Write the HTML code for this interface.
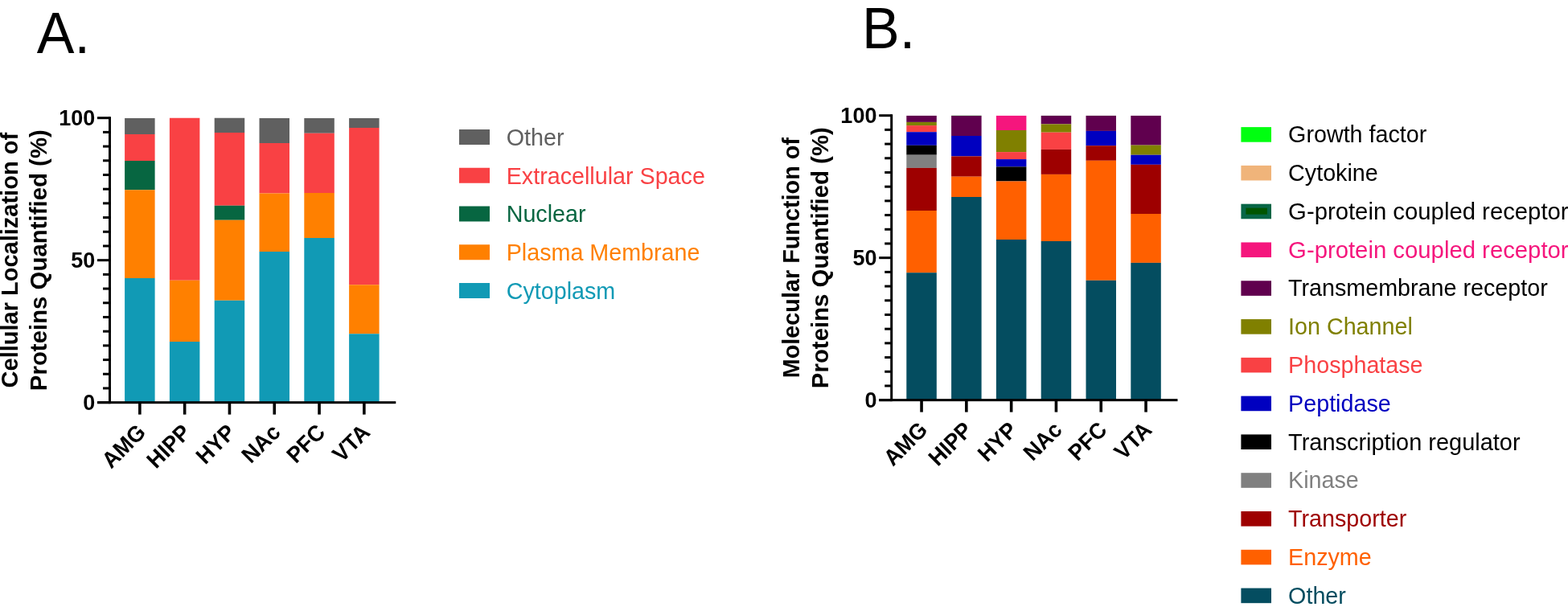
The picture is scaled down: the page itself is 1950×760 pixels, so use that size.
<!DOCTYPE html>
<html><head><meta charset="utf-8"><title>Protein localization and function</title>
<style>
html,body{margin:0;padding:0;background:#fff;}
body{width:1950px;height:760px;overflow:hidden;}
svg{display:block;}
text{font-family:"Liberation Sans", Arial, Helvetica, sans-serif;}
.big{font-size:70px;font-weight:400;fill:#000;}
.tk{font-size:27px;font-weight:700;fill:#000;}
.xl{font-size:27px;font-weight:700;fill:#000;}
.yt{font-size:29px;font-weight:700;fill:#000;}
.lg{font-size:28.7px;font-weight:400;}
</style></head>
<body>
<svg width="1950" height="760" viewBox="0 0 1950 760">
<text transform="translate(45.8,66.1) scale(1,1.04)" class="big">A.</text>
<text transform="translate(1072.1,59.8) scale(1,1.04)" class="big">B.</text>
<rect x="155.10" y="147.00" width="37.50" height="20.00" fill="#606060"/>
<rect x="155.10" y="167.00" width="37.50" height="33.00" fill="#F94144"/>
<rect x="155.10" y="200.00" width="37.50" height="36.25" fill="#076641"/>
<rect x="155.10" y="236.25" width="37.50" height="109.75" fill="#FF8000"/>
<rect x="155.10" y="346.00" width="37.50" height="154.65" fill="#119AB5"/>
<rect x="210.90" y="146.75" width="37.50" height="202.00" fill="#F94144"/>
<rect x="210.90" y="348.75" width="37.50" height="76.25" fill="#FF8000"/>
<rect x="210.90" y="425.00" width="37.50" height="75.65" fill="#119AB5"/>
<rect x="266.70" y="146.75" width="37.50" height="18.25" fill="#606060"/>
<rect x="266.70" y="165.00" width="37.50" height="90.75" fill="#F94144"/>
<rect x="266.70" y="255.75" width="37.50" height="18.00" fill="#076641"/>
<rect x="266.70" y="273.75" width="37.50" height="100.00" fill="#FF8000"/>
<rect x="266.70" y="373.75" width="37.50" height="126.90" fill="#119AB5"/>
<rect x="322.50" y="147.00" width="37.50" height="31.00" fill="#606060"/>
<rect x="322.50" y="178.00" width="37.50" height="62.50" fill="#F94144"/>
<rect x="322.50" y="240.50" width="37.50" height="72.50" fill="#FF8000"/>
<rect x="322.50" y="313.00" width="37.50" height="187.65" fill="#119AB5"/>
<rect x="378.30" y="147.00" width="37.50" height="18.75" fill="#606060"/>
<rect x="378.30" y="165.75" width="37.50" height="74.25" fill="#F94144"/>
<rect x="378.30" y="240.00" width="37.50" height="56.00" fill="#FF8000"/>
<rect x="378.30" y="296.00" width="37.50" height="204.65" fill="#119AB5"/>
<rect x="434.10" y="147.00" width="37.50" height="12.00" fill="#606060"/>
<rect x="434.10" y="159.00" width="37.50" height="195.25" fill="#F94144"/>
<rect x="434.10" y="354.25" width="37.50" height="61.00" fill="#FF8000"/>
<rect x="434.10" y="415.25" width="37.50" height="85.40" fill="#119AB5"/>
<rect x="135.00" y="145.20" width="3.0" height="356.95" fill="#000"/>
<rect x="121.00" y="499.15" width="15.50" height="3" fill="#000"/>
<rect x="128.00" y="481.45" width="8.50" height="3" fill="#000"/>
<rect x="128.00" y="463.75" width="8.50" height="3" fill="#000"/>
<rect x="128.00" y="446.06" width="8.50" height="3" fill="#000"/>
<rect x="128.00" y="428.36" width="8.50" height="3" fill="#000"/>
<rect x="128.00" y="410.66" width="8.50" height="3" fill="#000"/>
<rect x="128.00" y="392.96" width="8.50" height="3" fill="#000"/>
<rect x="128.00" y="375.27" width="8.50" height="3" fill="#000"/>
<rect x="128.00" y="357.57" width="8.50" height="3" fill="#000"/>
<rect x="128.00" y="339.87" width="8.50" height="3" fill="#000"/>
<rect x="121.00" y="322.17" width="15.50" height="3" fill="#000"/>
<rect x="128.00" y="304.48" width="8.50" height="3" fill="#000"/>
<rect x="128.00" y="286.78" width="8.50" height="3" fill="#000"/>
<rect x="128.00" y="269.08" width="8.50" height="3" fill="#000"/>
<rect x="128.00" y="251.38" width="8.50" height="3" fill="#000"/>
<rect x="128.00" y="233.69" width="8.50" height="3" fill="#000"/>
<rect x="128.00" y="215.99" width="8.50" height="3" fill="#000"/>
<rect x="128.00" y="198.29" width="8.50" height="3" fill="#000"/>
<rect x="128.00" y="180.59" width="8.50" height="3" fill="#000"/>
<rect x="128.00" y="162.90" width="8.50" height="3" fill="#000"/>
<rect x="121.00" y="145.20" width="15.50" height="3" fill="#000"/>
<rect x="121.00" y="499.15" width="371.30" height="3" fill="#000"/>
<rect x="172.05" y="500.65" width="3.6" height="14.95" fill="#000"/>
<rect x="227.85" y="500.65" width="3.6" height="14.95" fill="#000"/>
<rect x="283.65" y="500.65" width="3.6" height="14.95" fill="#000"/>
<rect x="339.45" y="500.65" width="3.6" height="14.95" fill="#000"/>
<rect x="395.25" y="500.65" width="3.6" height="14.95" fill="#000"/>
<rect x="451.05" y="500.65" width="3.6" height="14.95" fill="#000"/>
<text transform="translate(118.20,510.35) scale(1,1.04)" text-anchor="end" class="tk">0</text>
<text transform="translate(118.20,333.37) scale(1,1.04)" text-anchor="end" class="tk">50</text>
<text transform="translate(118.20,156.40) scale(1,1.04)" text-anchor="end" class="tk">100</text>
<text transform="translate(182.85,539.40) rotate(-45) scale(1,1.04)" text-anchor="end" class="xl">AMG</text>
<text transform="translate(238.65,539.40) rotate(-45) scale(1,1.04)" text-anchor="end" class="xl">HIPP</text>
<text transform="translate(294.45,539.40) rotate(-45) scale(1,1.04)" text-anchor="end" class="xl">HYP</text>
<text transform="translate(350.25,539.40) rotate(-45) scale(1,1.04)" text-anchor="end" class="xl">NAc</text>
<text transform="translate(406.05,539.40) rotate(-45) scale(1,1.04)" text-anchor="end" class="xl">PFC</text>
<text transform="translate(461.85,539.40) rotate(-45) scale(1,1.04)" text-anchor="end" class="xl">VTA</text>
<text transform="translate(22.40,323.67) rotate(-90)" text-anchor="middle" class="yt" style="font-size:29px">Cellular Localization of</text>
<text transform="translate(58.20,323.67) rotate(-90)" text-anchor="middle" class="yt" style="font-size:29.4px">Proteins Quantified (%)</text>
<rect x="1127.30" y="143.90" width="37.50" height="8.00" fill="#60004E"/>
<rect x="1127.30" y="151.90" width="37.50" height="4.20" fill="#808000"/>
<rect x="1127.30" y="156.10" width="37.50" height="8.10" fill="#F94144"/>
<rect x="1127.30" y="164.20" width="37.50" height="16.60" fill="#0000C0"/>
<rect x="1127.30" y="180.80" width="37.50" height="11.90" fill="#000000"/>
<rect x="1127.30" y="192.70" width="37.50" height="16.20" fill="#808080"/>
<rect x="1127.30" y="208.90" width="37.50" height="53.10" fill="#9E0000"/>
<rect x="1127.30" y="262.00" width="37.50" height="77.20" fill="#FF6000"/>
<rect x="1127.30" y="339.20" width="37.50" height="158.45" fill="#044D60"/>
<rect x="1183.10" y="143.72" width="37.50" height="0.18" fill="#00FF10"/>
<rect x="1183.10" y="143.90" width="37.50" height="25.10" fill="#60004E"/>
<rect x="1183.10" y="169.00" width="37.50" height="25.40" fill="#0000C0"/>
<rect x="1183.10" y="194.40" width="37.50" height="25.30" fill="#9E0000"/>
<rect x="1183.10" y="219.70" width="37.50" height="25.30" fill="#FF6000"/>
<rect x="1183.10" y="245.00" width="37.50" height="252.65" fill="#044D60"/>
<rect x="1238.90" y="143.90" width="37.50" height="18.10" fill="#F5167D"/>
<rect x="1238.90" y="162.00" width="37.50" height="27.10" fill="#808000"/>
<rect x="1238.90" y="189.10" width="37.50" height="9.00" fill="#F94144"/>
<rect x="1238.90" y="198.10" width="37.50" height="9.30" fill="#0000C0"/>
<rect x="1238.90" y="207.40" width="37.50" height="18.10" fill="#000000"/>
<rect x="1238.90" y="225.50" width="37.50" height="72.50" fill="#FF6000"/>
<rect x="1238.90" y="298.00" width="37.50" height="199.65" fill="#044D60"/>
<rect x="1294.70" y="143.85" width="37.50" height="0.05" fill="#00FF10"/>
<rect x="1294.70" y="143.90" width="37.50" height="10.50" fill="#60004E"/>
<rect x="1294.70" y="154.40" width="37.50" height="10.30" fill="#808000"/>
<rect x="1294.70" y="164.70" width="37.50" height="21.20" fill="#F94144"/>
<rect x="1294.70" y="185.90" width="37.50" height="31.00" fill="#9E0000"/>
<rect x="1294.70" y="216.90" width="37.50" height="83.10" fill="#FF6000"/>
<rect x="1294.70" y="300.00" width="37.50" height="197.65" fill="#044D60"/>
<rect x="1350.50" y="143.85" width="37.50" height="0.05" fill="#00FF10"/>
<rect x="1350.50" y="143.90" width="37.50" height="19.00" fill="#60004E"/>
<rect x="1350.50" y="162.90" width="37.50" height="18.30" fill="#0000C0"/>
<rect x="1350.50" y="181.20" width="37.50" height="18.60" fill="#9E0000"/>
<rect x="1350.50" y="199.80" width="37.50" height="149.00" fill="#FF6000"/>
<rect x="1350.50" y="348.80" width="37.50" height="148.85" fill="#044D60"/>
<rect x="1406.30" y="143.90" width="37.50" height="36.70" fill="#60004E"/>
<rect x="1406.30" y="180.60" width="37.50" height="12.10" fill="#808000"/>
<rect x="1406.30" y="192.70" width="37.50" height="12.10" fill="#0000C0"/>
<rect x="1406.30" y="204.80" width="37.50" height="61.20" fill="#9E0000"/>
<rect x="1406.30" y="266.00" width="37.50" height="60.90" fill="#FF6000"/>
<rect x="1406.30" y="326.90" width="37.50" height="170.75" fill="#044D60"/>
<rect x="1107.20" y="142.20" width="3.0" height="356.95" fill="#000"/>
<rect x="1093.20" y="496.15" width="15.50" height="3" fill="#000"/>
<rect x="1100.20" y="478.45" width="8.50" height="3" fill="#000"/>
<rect x="1100.20" y="460.75" width="8.50" height="3" fill="#000"/>
<rect x="1100.20" y="443.06" width="8.50" height="3" fill="#000"/>
<rect x="1100.20" y="425.36" width="8.50" height="3" fill="#000"/>
<rect x="1100.20" y="407.66" width="8.50" height="3" fill="#000"/>
<rect x="1100.20" y="389.96" width="8.50" height="3" fill="#000"/>
<rect x="1100.20" y="372.27" width="8.50" height="3" fill="#000"/>
<rect x="1100.20" y="354.57" width="8.50" height="3" fill="#000"/>
<rect x="1100.20" y="336.87" width="8.50" height="3" fill="#000"/>
<rect x="1093.20" y="319.17" width="15.50" height="3" fill="#000"/>
<rect x="1100.20" y="301.48" width="8.50" height="3" fill="#000"/>
<rect x="1100.20" y="283.78" width="8.50" height="3" fill="#000"/>
<rect x="1100.20" y="266.08" width="8.50" height="3" fill="#000"/>
<rect x="1100.20" y="248.38" width="8.50" height="3" fill="#000"/>
<rect x="1100.20" y="230.69" width="8.50" height="3" fill="#000"/>
<rect x="1100.20" y="212.99" width="8.50" height="3" fill="#000"/>
<rect x="1100.20" y="195.29" width="8.50" height="3" fill="#000"/>
<rect x="1100.20" y="177.59" width="8.50" height="3" fill="#000"/>
<rect x="1100.20" y="159.90" width="8.50" height="3" fill="#000"/>
<rect x="1093.20" y="142.20" width="15.50" height="3" fill="#000"/>
<rect x="1093.20" y="496.15" width="371.30" height="3" fill="#000"/>
<rect x="1144.25" y="497.65" width="3.6" height="14.95" fill="#000"/>
<rect x="1200.05" y="497.65" width="3.6" height="14.95" fill="#000"/>
<rect x="1255.85" y="497.65" width="3.6" height="14.95" fill="#000"/>
<rect x="1311.65" y="497.65" width="3.6" height="14.95" fill="#000"/>
<rect x="1367.45" y="497.65" width="3.6" height="14.95" fill="#000"/>
<rect x="1423.25" y="497.65" width="3.6" height="14.95" fill="#000"/>
<text transform="translate(1090.40,507.35) scale(1,1.04)" text-anchor="end" class="tk">0</text>
<text transform="translate(1090.40,330.37) scale(1,1.04)" text-anchor="end" class="tk">50</text>
<text transform="translate(1090.40,153.40) scale(1,1.04)" text-anchor="end" class="tk">100</text>
<text transform="translate(1155.05,536.40) rotate(-45) scale(1,1.04)" text-anchor="end" class="xl">AMG</text>
<text transform="translate(1210.85,536.40) rotate(-45) scale(1,1.04)" text-anchor="end" class="xl">HIPP</text>
<text transform="translate(1266.65,536.40) rotate(-45) scale(1,1.04)" text-anchor="end" class="xl">HYP</text>
<text transform="translate(1322.45,536.40) rotate(-45) scale(1,1.04)" text-anchor="end" class="xl">NAc</text>
<text transform="translate(1378.25,536.40) rotate(-45) scale(1,1.04)" text-anchor="end" class="xl">PFC</text>
<text transform="translate(1434.05,536.40) rotate(-45) scale(1,1.04)" text-anchor="end" class="xl">VTA</text>
<text transform="translate(993.80,320.67) rotate(-90)" text-anchor="middle" class="yt" style="font-size:28.8px">Molecular Function of</text>
<text transform="translate(1029.60,320.67) rotate(-90)" text-anchor="middle" class="yt" style="font-size:29.4px">Proteins Quantified (%)</text>
<rect x="571.00" y="161.00" width="38" height="19" fill="#606060"/>
<text x="629.70" y="180.80" class="lg" fill="#606060">Other</text>
<rect x="571.00" y="208.75" width="38" height="19" fill="#F94144"/>
<text x="629.70" y="228.55" class="lg" fill="#F94144">Extracellular Space</text>
<rect x="571.00" y="256.50" width="38" height="19" fill="#076641"/>
<text x="629.70" y="276.30" class="lg" fill="#076641">Nuclear</text>
<rect x="571.00" y="304.25" width="38" height="19" fill="#FF8000"/>
<text x="629.70" y="324.05" class="lg" fill="#FF8000">Plasma Membrane</text>
<rect x="571.00" y="352.00" width="38" height="19" fill="#119AB5"/>
<text x="629.70" y="371.80" class="lg" fill="#119AB5">Cytoplasm</text>
<rect x="1543.40" y="158.10" width="37.6" height="18.6" fill="#00FF10"/>
<text x="1602.10" y="177.30" class="lg" fill="#000">Growth factor</text>
<rect x="1543.40" y="205.89" width="37.6" height="18.6" fill="#F0B47A"/>
<text x="1602.10" y="225.09" class="lg" fill="#000">Cytokine</text>
<rect x="1543.40" y="253.68" width="37.6" height="18.6" fill="#076646"/>
<rect x="1549.40" y="258.68" width="26.5" height="8" fill="#005500"/>
<text x="1602.10" y="272.88" class="lg" fill="#000" style="font-size:29.3px">G-protein coupled receptor</text>
<rect x="1543.40" y="301.47" width="37.6" height="18.6" fill="#F5167D"/>
<text x="1602.10" y="320.67" class="lg" fill="#F5167D" style="font-size:29.3px">G-protein coupled receptor</text>
<rect x="1543.40" y="349.26" width="37.6" height="18.6" fill="#60004E"/>
<text x="1602.10" y="368.46" class="lg" fill="#000">Transmembrane receptor</text>
<rect x="1543.40" y="397.05" width="37.6" height="18.6" fill="#808000"/>
<text x="1602.10" y="416.25" class="lg" fill="#808000">Ion Channel</text>
<rect x="1543.40" y="444.84" width="37.6" height="18.6" fill="#F94144"/>
<text x="1602.10" y="464.04" class="lg" fill="#F94144">Phosphatase</text>
<rect x="1543.40" y="492.63" width="37.6" height="18.6" fill="#0000C0"/>
<text x="1602.10" y="511.83" class="lg" fill="#0000C0">Peptidase</text>
<rect x="1543.40" y="540.42" width="37.6" height="18.6" fill="#000000"/>
<text x="1602.10" y="559.62" class="lg" fill="#000" style="font-size:28.95px">Transcription regulator</text>
<rect x="1543.40" y="588.21" width="37.6" height="18.6" fill="#808080"/>
<text x="1602.10" y="607.41" class="lg" fill="#808080">Kinase</text>
<rect x="1543.40" y="636.00" width="37.6" height="18.6" fill="#9E0000"/>
<text x="1602.10" y="655.20" class="lg" fill="#9E0000">Transporter</text>
<rect x="1543.40" y="683.79" width="37.6" height="18.6" fill="#FF6000"/>
<text x="1602.10" y="702.99" class="lg" fill="#FF6000">Enzyme</text>
<rect x="1543.40" y="731.58" width="37.6" height="18.6" fill="#044D60"/>
<text x="1602.10" y="750.78" class="lg" fill="#044D60">Other</text>
</svg>
</body></html>
